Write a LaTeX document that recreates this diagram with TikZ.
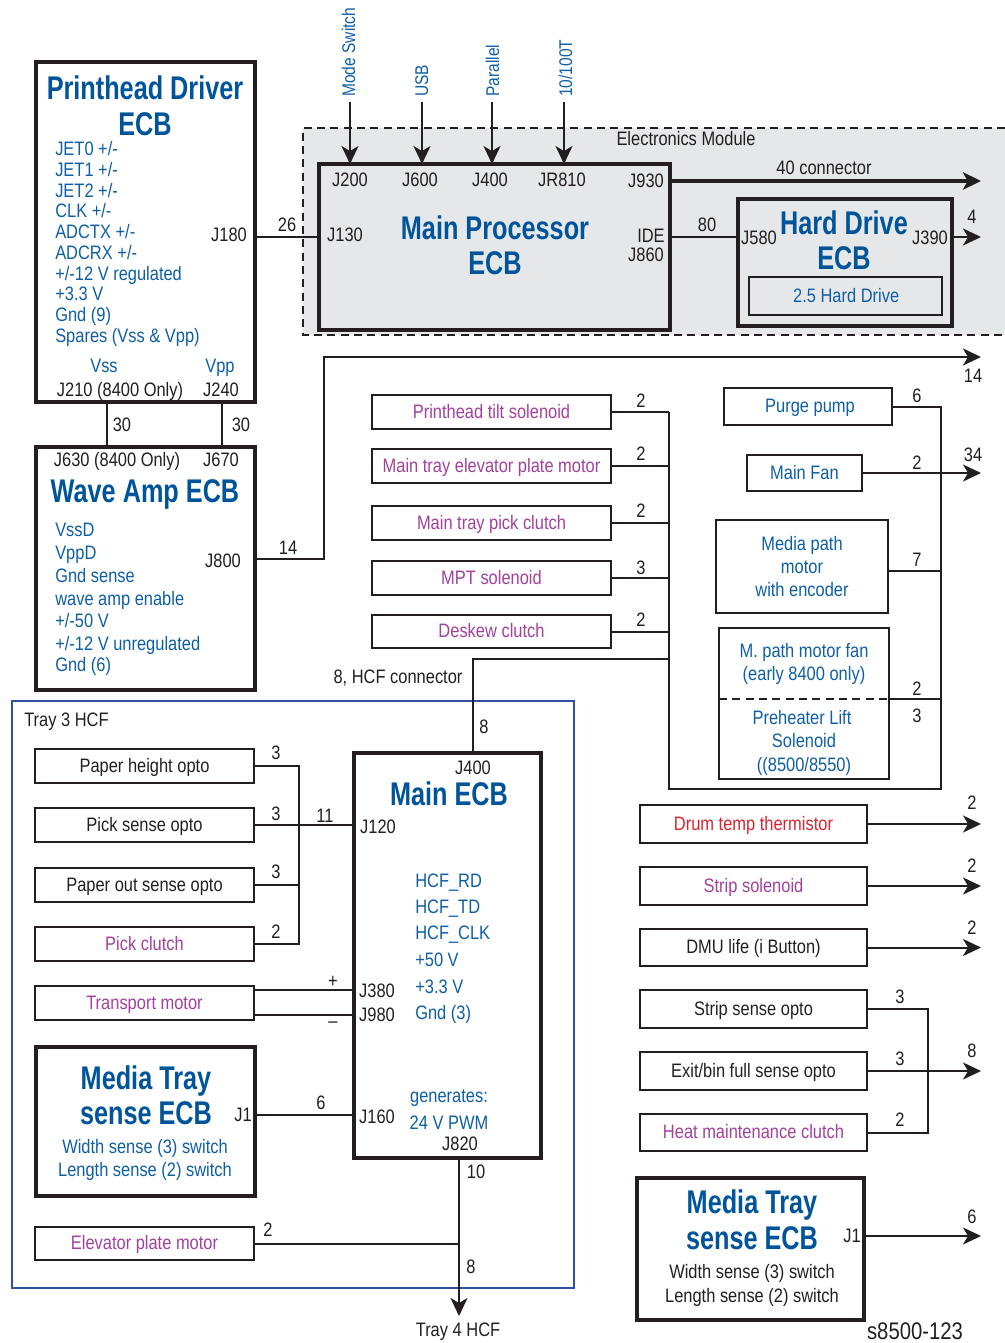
\documentclass[tikz,border=0pt]{standalone}
\usepackage{fontspec}
\setmainfont[FakeStretch=.845]{Liberation Sans}
\newfontfamily\ttlfont[FakeStretch=.77]{Liberation Sans Bold}
\usetikzlibrary{arrows.meta}
\definecolor{cblue}{HTML}{0F5FA6}
\definecolor{ctitle}{HTML}{00549A}
\definecolor{cmag}{HTML}{A2409C}
\definecolor{cred}{HTML}{D8232E}
\definecolor{cline}{HTML}{231F20}
\definecolor{cgray}{HTML}{E6E7E8}
\definecolor{ctray}{HTML}{2F4F9F}
\newcounter{lab}
% text label: style, x, y, text
\newcommand\tx[4]{\stepcounter{lab}\node[#1] (t\thelab) at (#2,#3) {#4};}
% box: name, x1, y1, x2, y2, style, text
\newcommand\bx[7]{\node[#6,minimum width={(#4-#2)*0.75pt},minimum height={(#5-#3)*0.75pt}] (#1) at ({(#2+#4)/2},{(#3+#5)/2}) {#7};}
\tikzset{
 lb/.style={inner sep=0,text=cline,text height=12pt,text depth=3pt,font=\fontsize{14.6}{16}\selectfont},
 bl/.style={lb,text=cblue},
 mg/.style={lb,text=cmag},
 rd/.style={lb,text=cred},
 ttl/.style={inner sep=0,text=ctitle,text height=20.5pt,text depth=4pt,font=\ttlfont\fontsize{24.6}{27}\selectfont},
 plainbox/.style={draw=cline,line width=1.5pt,inner sep=0,font=\fontsize{14.6}{16}\selectfont,text=cline,outer sep=0,align=center},
 thinbox/.style={plainbox,text height=12pt,text depth=3pt},
 thickbox/.style={draw=cline,line width=3pt,inner sep=0,outer sep=0,fill=white},
 wire/.style={draw=cline,line width=1.5pt},
 arr/.style={wire,-{Stealth[length=18*0.75pt,width=17*0.75pt,inset=5*0.75pt]}},
}
\begin{document}
\begin{tikzpicture}[x=0.75pt,y=-0.75pt]
\useasboundingbox (0,0) rectangle (1005,1343);
% Electronics Module background
\fill[cgray] (303,128) rectangle (1005,335);
\draw[cline,line width=1.5pt,dash pattern=on 6pt off 4pt] (1005,128) -- (303,128) -- (303,335) -- (1005,335);
\draw[ctray,line width=2.1pt] (12,701) rectangle (574,1288);
% Boxes
\bx{ph}{36}{62}{255}{402}{thickbox}{}
\bx{wa}{36}{447}{255}{690}{thickbox}{}
\bx{mp}{319}{164}{670}{330}{thickbox,fill=cgray}{}
\bx{hd}{738}{199}{952}{326}{thickbox,fill=cgray}{}
\bx{hd25}{749}{277}{942}{315}{thinbox,text=cblue}{\hspace{1pt}2.5 Hard Drive}
\bx{pts}{372}{395}{611}{429}{thinbox,text=cmag}{Printhead tilt solenoid}
\bx{mte}{372}{449}{611}{483}{thinbox,text=cmag}{Main tray elevator plate motor}
\bx{mtp}{372}{506}{611}{540}{thinbox,text=cmag}{Main tray pick clutch}
\bx{mpt}{372}{561}{611}{595}{thinbox,text=cmag}{MPT solenoid}
\bx{dsk}{372}{615}{611}{648}{thinbox,text=cmag}{Deskew clutch}
\bx{pp}{724}{388}{892}{425}{thinbox,text=cblue}{\hspace{3pt}Purge pump}
\bx{mf}{747}{455}{862}{491}{thinbox,text=cblue}{Main Fan}
\bx{mpm}{716}{520}{888}{613}{plainbox,text=cblue}{Media path\\[1.3pt]motor\\[1.3pt]with encoder}
\bx{mfan}{719}{628}{889}{779}{plainbox}{}
\bx{drum}{640}{805}{867}{843}{thinbox,text=cred}{Drum temp thermistor}
\bx{strip}{640}{867}{867}{905}{thinbox,text=cmag}{Strip solenoid}
\bx{dmu}{640}{929}{867}{966}{thinbox}{DMU life (i Button)}
\bx{sso}{640}{990}{867}{1028}{thinbox}{Strip sense opto}
\bx{exit}{640}{1052}{867}{1090}{thinbox}{Exit/bin full sense opto}
\bx{heat}{640}{1114}{867}{1151}{thinbox,text=cmag}{Heat maintenance clutch}
\bx{mtr}{637}{1178}{864}{1320}{thickbox}{}
\bx{phe}{35}{749}{254}{783}{thinbox}{Paper height opto}
\bx{pse}{35}{808}{254}{842}{thinbox}{Pick sense opto}
\bx{poo}{35}{868}{254}{902}{thinbox}{Paper out sense opto}
\bx{pkc}{35}{927}{254}{961}{thinbox,text=cmag}{Pick clutch}
\bx{tm}{35}{986}{254}{1020}{thinbox,text=cmag}{Transport motor}
\bx{mtl}{36}{1047}{255}{1196}{thickbox}{}
\bx{epm}{35}{1227}{254}{1260}{thinbox,text=cmag}{Elevator plate motor}
\bx{mecb}{354}{753}{541}{1158}{thickbox}{}
% Free coordinates
\coordinate (ms) at (350,102);
\coordinate (usb) at (422,102);
\coordinate (par) at (492,102);
\coordinate (net) at (564,102);
\coordinate (out1) at (981,181);
\coordinate (out2) at (981,237);
\coordinate (bus1) at (669,412);
\coordinate (busb) at (669,789);
\coordinate (busr) at (941,407);
\coordinate (bush) at (669,659);
\coordinate (busl) at (299,766);
\coordinate (busd) at (928,1008);
\coordinate (xr) at (981,0);
\coordinate (l14) at (324,357);
\coordinate (t4) at (459,1316);
\coordinate (j400) at (473,753);
\coordinate (j820) at (459,1158);
% Connectors
\draw[arr] (ms) -- (ms |- mp.north);
\draw[arr] (usb) -- (usb |- mp.north);
\draw[arr] (par) -- (par |- mp.north);
\draw[arr] (net) -- (net |- mp.north);
\draw[arr,line width=3pt,-{Stealth[length=13.5pt,width=13pt,inset=3.5pt]}] (mp.east |- out1) -- (out1);
\draw[wire] (ph.east |- out2) -- (mp.west |- out2);
\draw[wire] (mp.east |- out2) -- (hd.west |- out2);
\draw[arr] (hd.east |- out2) -- (out2);
\draw[wire] (107,402) -- (107,447);
\draw[wire] (222,402) -- (222,447);
\draw[arr] (wa.east |- 0,559) -- (324,559) -- (l14) -- (xr |- l14);
\draw[wire] (pts.east) -- (pts.east -| bus1);
\draw[wire] (mte.east) -- (mte.east -| bus1);
\draw[wire] (mtp.east) -- (mtp.east -| bus1);
\draw[wire] (mpt.east) -- (mpt.east -| bus1);
\draw[wire] (dsk.east) -- (dsk.east -| bus1);
\draw[wire] (bus1) -- (busb) -- (busb -| busr) -- (busr) -- (pp.east |- busr);
\draw[wire] (j400) -- (j400 |- bush) -- (bush);
\draw[arr] (mf.east) -- (mf.east -| xr);
\draw[wire] (mpm.east |- 0,571) -- (busr |- 0,571);
\draw[wire] (mfan.east |- 0,699) -- (busr |- 0,699);
\draw[wire,dash pattern=on 6pt off 4pt] (mfan.west |- 0,699) -- (mfan.east |- 0,699);
\draw[arr] (drum.east) -- (drum.east -| xr);
\draw[arr] (strip.east) -- (strip.east -| xr);
\draw[arr] (dmu.east) -- (dmu.east -| xr);
\draw[wire] (sso.east) -- (sso.east -| busd) -- (heat.east -| busd) -- (heat.east);
\draw[arr] (exit.east) -- (exit.east -| xr);
\draw[arr] (mtr.east |- 0,1236) -- (xr |- 0,1236);
\draw[wire] (phe.east) -- (phe.east -| busl) -- (pkc.east -| busl) -- (pkc.east);
\draw[wire] (pse.east) -- (mecb.west |- pse.east);
\draw[wire] (poo.east) -- (poo.east -| busl);
\draw[wire] (tm.east |- 0,990) -- (mecb.west |- 0,990);
\draw[wire] (tm.east |- 0,1015) -- (mecb.west |- 0,1015);
\draw[wire] (mtl.east |- 0,1115) -- (mecb.west |- 0,1115);
\draw[arr] (j820) -- (t4);
\draw[wire] (epm.east) -- (epm.east -| j820);
% Printhead Driver text
\tx{ttl}{145}{88}{Printhead Driver}
\tx{ttl}{145}{124}{ECB}
\tx{bl,anchor=west}{55}{149}{JET0 +/-}
\tx{bl,anchor=west}{55}{170}{JET1 +/-}
\tx{bl,anchor=west}{55}{191}{JET2 +/-}
\tx{bl,anchor=west}{55}{211}{CLK +/-}
\tx{bl,anchor=west}{55}{232}{ADCTX +/-}
\tx{bl,anchor=west}{55}{253}{ADCRX +/-}
\tx{bl,anchor=west}{55}{274}{+/-12 V regulated}
\tx{bl,anchor=west}{55}{294}{+3.3 V}
\tx{bl,anchor=west}{55}{315}{Gnd (9)}
\tx{bl,anchor=west}{55}{336}{Spares (Vss \& Vpp)}
\tx{bl}{104}{366}{Vss}
\tx{bl}{220}{366}{Vpp}
\tx{lb}{120}{390}{J210 (8400 Only)}
\tx{lb}{221}{390}{J240}
\tx{lb}{229}{235}{J180}
\tx{lb}{287}{225}{26}
\tx{lb}{122}{425}{30}
\tx{lb}{241}{425}{30}
% Wave Amp
\tx{lb}{117}{460}{J630 (8400 Only)}
\tx{lb}{221}{460}{J670}
\tx{ttl}{145}{491}{Wave Amp ECB}
\tx{bl,anchor=west}{55}{530}{VssD}
\tx{bl,anchor=west}{55}{553}{VppD}
\tx{bl,anchor=west}{55}{576}{Gnd sense}
\tx{bl,anchor=west}{55}{599}{wave amp enable}
\tx{bl,anchor=west}{55}{621}{+/-50 V}
\tx{bl,anchor=west}{55}{644}{+/-12 V unregulated}
\tx{bl,anchor=west}{55}{665}{Gnd (6)}
\tx{lb}{223}{561}{J800}
\tx{lb}{288}{548}{14}
% Top labels
\tx{bl,rotate=90,anchor=west,font=\fontsize{13.8}{16}\selectfont}{349}{97}{Mode Switch}
\tx{bl,rotate=90,anchor=west,font=\fontsize{13.8}{16}\selectfont}{422}{97}{USB}
\tx{bl,rotate=90,anchor=west,font=\fontsize{13.8}{16}\selectfont}{493}{97}{Parallel}
\tx{bl,rotate=90,anchor=west,font=\fontsize{13.8}{16}\selectfont}{566}{97}{10/100T}
\tx{lb}{686}{139}{Electronics Module}
\tx{lb}{824}{168}{40 connector}
% Main Processor
\tx{lb}{350}{180}{J200}
\tx{lb}{420}{180}{J600}
\tx{lb}{490}{180}{J400}
\tx{lb}{562}{180}{JR810}
\tx{lb}{646}{181}{J930}
\tx{lb}{345}{235}{J130}
\tx{ttl}{495}{228}{Main Processor}
\tx{ttl}{495}{263}{ECB}
\tx{lb}{651}{236}{IDE}
\tx{lb}{646}{255}{J860}
\tx{lb}{707}{225}{80}
\tx{lb}{759}{238}{J580}
\tx{ttl}{844}{223}{Hard Drive}
\tx{ttl}{844}{258}{ECB}
\tx{lb}{930}{238}{J390}
\tx{lb}{972}{217}{4}
\tx{lb}{973}{376}{14}
% Right mid numbers
\tx{lb}{641}{401}{2}
\tx{lb}{641}{454}{2}
\tx{lb}{641}{511}{2}
\tx{lb}{641}{568}{3}
\tx{lb}{641}{620}{2}
\tx{lb}{398}{677}{8, HCF connector}
\tx{lb}{484}{727}{8}
\tx{lb}{917}{396}{6}
\tx{lb}{917}{463}{2}
\tx{lb}{973}{455}{34}
\tx{lb}{917}{560}{7}
\tx{lb}{917}{689}{2}
\tx{lb}{917}{716}{3}
\tx{bl}{804}{651}{M. path motor fan}
\tx{bl}{804}{674}{(early 8400 only)}
\tx{bl}{802}{718}{Preheater Lift}
\tx{bl}{804}{741}{Solenoid}
\tx{bl}{804}{765}{((8500/8550)}
\tx{lb}{972}{803}{2}
\tx{lb}{972}{866}{2}
\tx{lb}{972}{928}{2}
\tx{lb}{900}{997}{3}
\tx{lb}{900}{1059}{3}
\tx{lb}{900}{1120}{2}
\tx{lb}{972}{1051}{8}
\tx{lb}{972}{1217}{6}
% Media Tray right
\tx{ttl}{752}{1202}{Media Tray}
\tx{ttl}{752}{1238}{sense ECB}
\tx{lb}{852}{1236}{J1}
\tx{lb}{752}{1272}{Width sense (3) switch}
\tx{lb}{752}{1296}{Length sense (2) switch}
\tx{lb,font=\fontsize{18}{20}\selectfont}{915}{1333}{s8500-123}
% Tray 3 HCF
\tx{lb,anchor=west}{24}{720}{Tray 3 HCF}
\tx{lb}{276}{753}{3}
\tx{lb}{276}{814}{3}
\tx{lb}{276}{872}{3}
\tx{lb}{276}{932}{2}
\tx{lb}{325}{816}{11}
\tx{lb}{333}{981}{+}
\tx{lb}{333}{1021}{--}
\tx{lb}{321}{1103}{6}
\tx{lb}{268}{1230}{2}
\tx{lb}{473}{768}{J400}
\tx{ttl}{449}{794}{Main ECB}
\tx{lb}{378}{827}{J120}
\tx{bl,anchor=west}{415}{881}{HCF\_RD}
\tx{bl,anchor=west}{415}{907}{HCF\_TD}
\tx{bl,anchor=west}{415}{933}{HCF\_CLK}
\tx{bl,anchor=west}{415}{960}{+50 V}
\tx{bl,anchor=west}{415}{987}{+3.3 V}
\tx{bl,anchor=west}{415}{1013}{Gnd (3)}
\tx{lb}{377}{991}{J380}
\tx{lb}{377}{1015}{J980}
\tx{lb}{377}{1117}{J160}
\tx{bl}{449}{1096}{generates:}
\tx{bl}{449}{1123}{24 V PWM}
\tx{lb}{460}{1144}{J820}
\tx{lb}{476}{1172}{10}
\tx{lb}{471}{1267}{8}
\tx{lb}{458}{1330}{Tray 4 HCF}
% Media Tray left
\tx{ttl}{146}{1078}{Media Tray}
\tx{ttl}{146}{1113}{sense ECB}
\tx{lb}{243}{1115}{J1}
\tx{bl}{145}{1147}{Width sense (3) switch}
\tx{bl}{145}{1170}{Length sense (2) switch}
\end{tikzpicture}
\end{document}
